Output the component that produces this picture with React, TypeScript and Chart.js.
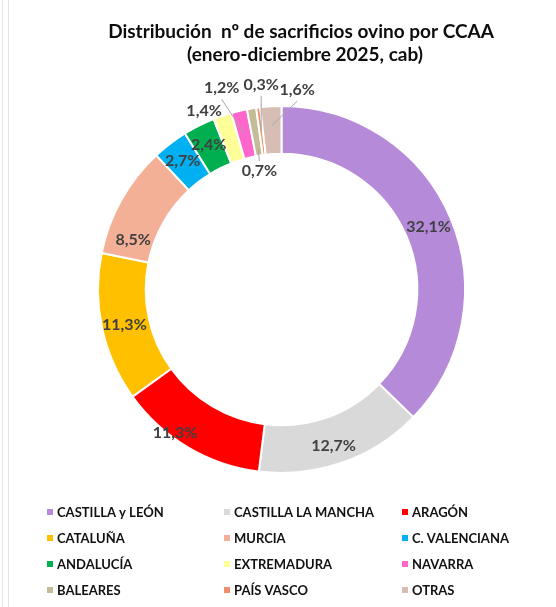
import React, { useEffect, useRef } from "react";
import { Chart, registerables } from "chart.js";

Chart.register(...registerables);

const categories = [
  "CASTILLA y LEÓN",
  "CASTILLA LA MANCHA",
  "ARAGÓN",
  "CATALUÑA",
  "MURCIA",
  "C. VALENCIANA",
  "ANDALUCÍA",
  "EXTREMADURA",
  "NAVARRA",
  "BALEARES",
  "PAÍS VASCO",
  "OTRAS",
];

const shares = [32.1, 12.7, 11.3, 11.3, 8.5, 2.7, 2.4, 1.4, 1.2, 0.7, 0.3, 1.6];

const colors = [
  "#B58BD9",
  "#D9D9D9",
  "#FF0000",
  "#FFC000",
  "#F4B096",
  "#00B0F0",
  "#00B050",
  "#FFFF99",
  "#FF66CC",
  "#C4BC96",
  "#F0906A",
  "#D6BEB4",
];

const titleLines = ["Distribución  nº de sacrificios ovino por CCAA", "(enero-diciembre 2025, cab)"];

// label placement relative to the slice's mid-ring point (style only)
const labelPlacement: { dx: number; dy: number; leader?: number }[] = [
  { dx: 0, dy: 0 },
  { dx: -1, dy: 6 },
  { dx: -25, dy: 6 },
  { dx: -1, dy: 2 },
  { dx: -9, dy: 28 },
  { dx: -2, dy: -2 },
  { dx: -1, dy: -2 },
  { dx: -26, dy: -28 },
  { dx: -23, dy: -46, leader: 0.5 },
  { dx: 4, dy: 39, leader: 0.15 },
  { dx: 0, dy: -46, leader: 0.5 },
  { dx: 25, dy: -40, leader: 0.6 },
];

const FONT = "Lato, 'Open Sans', sans-serif";

const fmt = (v: number) => v.toFixed(1).replace(".", ",") + "%";

const decorPlugin = {
  id: "decor",
  beforeDraw(chart: any) {
    const ctx = chart.ctx;
    ctx.save();
    ctx.fillStyle = "#ffffff";
    ctx.fillRect(0, 0, chart.width, chart.height);
    ctx.strokeStyle = "#e3e3e3";
    ctx.lineWidth = 1;
    ctx.beginPath();
    ctx.moveTo(2.5, 0);
    ctx.lineTo(2.5, chart.height);
    ctx.moveTo(8.5, 0);
    ctx.lineTo(8.5, chart.height);
    ctx.stroke();
    ctx.restore();
  },
  afterDraw(chart: any) {
    const ctx = chart.ctx;
    ctx.save();
    // title
    ctx.fillStyle = "#0d0d0d";
    ctx.font = `bold 19px ${FONT}`;
    ctx.textAlign = "center";
    ctx.textBaseline = "alphabetic";
    ctx.fillText(titleLines[0], 301, 38);
    ctx.fillText(titleLines[1], 305, 61);
    // legend grid
    const colX = [47, 224, 402];
    const rowY = [512, 538, 564, 590];
    ctx.font = `bold 13px ${FONT}`;
    ctx.textAlign = "left";
    ctx.textBaseline = "middle";
    categories.forEach((name, i) => {
      const c = i % 3;
      const r = Math.floor(i / 3);
      ctx.fillStyle = colors[i];
      ctx.fillRect(colX[c], rowY[r] - 3, 6, 6);
      ctx.fillStyle = "#111111";
      ctx.fillText(name, colX[c] + 10, rowY[r] + 1);
    });
    ctx.restore();
  },
  afterDatasetsDraw(chart: any) {
    const ctx = chart.ctx;
    const meta = chart.getDatasetMeta(0);
    ctx.save();
    ctx.font = `bold 16px ${FONT}`;
    ctx.textAlign = "center";
    ctx.textBaseline = "middle";
    meta.data.forEach((arc: any, i: number) => {
      const p = arc.getProps(["x", "y", "startAngle", "endAngle", "innerRadius", "outerRadius"], true);
      const mid = (p.startAngle + p.endAngle) / 2;
      const rMid = (p.innerRadius + p.outerRadius) / 2;
      const px = p.x + Math.cos(mid) * rMid;
      const py = p.y + Math.sin(mid) * rMid;
      const pl = labelPlacement[i];
      const lx = px + pl.dx;
      const ly = py + pl.dy;
      if (pl.leader !== undefined) {
        const rr = p.innerRadius + (p.outerRadius - p.innerRadius) * pl.leader;
        const ex = p.x + Math.cos(mid) * rr;
        const ey = p.y + Math.sin(mid) * rr;
        const sy = pl.dy < 0 ? ly + 11 : ly - 10;
        ctx.strokeStyle = "#a6a6a6";
        ctx.lineWidth = 1;
        ctx.beginPath();
        ctx.moveTo(lx, sy);
        ctx.lineTo(ex, ey);
        ctx.stroke();
      }
      ctx.fillStyle = "#404040";
      ctx.fillText(fmt(shares[i]), lx, ly);
    });
    ctx.restore();
  },
};

export default function App() {
  const ref = useRef<HTMLCanvasElement | null>(null);
  useEffect(() => {
    if (!ref.current) return;
    const chart = new Chart(ref.current, {
      type: "doughnut",
      data: {
        labels: categories,
        datasets: [
          {
            data: shares,
            backgroundColor: colors,
            borderColor: "#ffffff",
            borderWidth: 2,
          },
        ],
      },
      options: {
        responsive: false,
        animation: false,
        cutout: "74%",
        layout: { padding: { left: 97, right: 90, top: 105, bottom: 133 } },
        plugins: {
          legend: { display: false },
          title: { display: false },
          tooltip: { enabled: false },
        },
      },
      plugins: [decorPlugin],
    });
    return () => chart.destroy();
  }, []);
  return (
    <div style={{ position: "fixed", left: 0, top: 0, width: 556, height: 607, background: "#fff" }}>
      <canvas ref={ref} width={556} height={607} style={{ width: 556, height: 607, display: "block" }} />
    </div>
  );
}
